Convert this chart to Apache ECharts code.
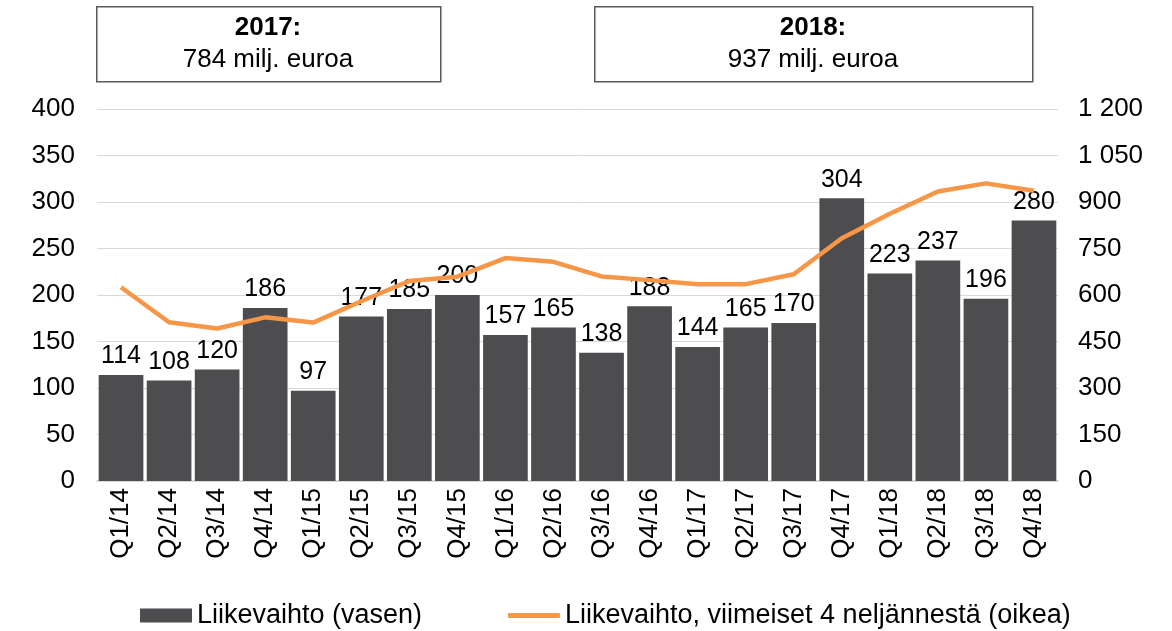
<!DOCTYPE html>
<html>
<head>
<meta charset="utf-8">
<script src="https://cdn.jsdelivr.net/npm/echarts@6/dist/echarts.min.js"></script>
<style>
html, body { margin: 0; padding: 0; background: #fff; }
#main { width: 1172px; height: 631px; }
</style>
</head>
<body>
<div id="main"></div>
<script>
var quarters = ["Q1/14","Q2/14","Q3/14","Q4/14","Q1/15","Q2/15","Q3/15","Q4/15","Q1/16","Q2/16",
  "Q3/16","Q4/16","Q1/17","Q2/17","Q3/17","Q4/17","Q1/18","Q2/18","Q3/18","Q4/18"];
var revenue = [114,108,120,186,97,177,185,200,157,165,138,188,144,165,170,304,223,237,196,280];
var rolling4 = [625,512,492,528,511,580,645,659,719,707,660,648,635,635,667,783,862,934,960,936];

var font = "Liberation Sans, Arial, sans-serif";
var myChart = echarts.init(document.getElementById("main"));

function spaceThousands(v) {
  return String(v).replace(/\B(?=(\d{3})+(?!\d))/g, " ");
}

var legendText = { fontSize: 27, color: "#000", fontFamily: font };

var option = {
  animation: false,
  textStyle: { fontFamily: font },
  grid: { left: 97, right: 114, top: 109, bottom: 150 },
  legend: [
    {
      top: 597,
      left: 135,
      itemWidth: 52,
      itemHeight: 14,
      itemGap: 6,
      textStyle: legendText,
      data: [{ name: "Liikevaihto (vasen)", icon: "rect" }]
    },
    {
      top: 597,
      left: 503,
      itemWidth: 52,
      itemHeight: 5,
      textStyle: legendText,
      data: [{ name: "Liikevaihto, viimeiset 4 neljännestä (oikea)", icon: "roundRect" }]
    }
  ],
  xAxis: {
    type: "category",
    data: quarters,
    axisLine: { lineStyle: { color: "#d9d9d9", width: 2 } },
    axisTick: { show: false },
    axisLabel: { rotate: 90, fontSize: 26, color: "#000", margin: 7, fontFamily: font }
  },
  yAxis: [
    {
      type: "value", min: 0, max: 400, interval: 50,
      axisLine: { show: false }, axisTick: { show: false },
      splitLine: { lineStyle: { color: "#d9d9d9", width: 1 } },
      axisLabel: { fontSize: 26, color: "#000", margin: 22, fontFamily: font }
    },
    {
      type: "value", min: 0, max: 1200, interval: 150,
      axisLine: { show: false }, axisTick: { show: false },
      splitLine: { show: false },
      axisLabel: { fontSize: 26, color: "#000", margin: 20, align: "left", fontFamily: font,
        formatter: spaceThousands }
    }
  ],
  series: [
    {
      name: "Liikevaihto (vasen)",
      type: "bar",
      data: revenue,
      barCategoryGap: "7%",
      itemStyle: { color: "#4d4d4f" },
      label: { show: true, position: "top", fontSize: 25, color: "#000", distance: 6, fontFamily: font }
    },
    {
      name: "Liikevaihto, viimeiset 4 neljännestä (oikea)",
      type: "line",
      yAxisIndex: 1,
      data: rolling4,
      symbol: "none",
      lineStyle: { color: "#f79646", width: 4.5 },
      itemStyle: { color: "#f79646" }
    }
  ],
  graphic: [
    { type: "rect", left: 96, top: 6, shape: { width: 344, height: 75 },
      style: { fill: "#fff", stroke: "#595959", lineWidth: 1.5 } },
    { type: "text", x: 268, y: 28, style: { text: "2017:", textAlign: "center", textVerticalAlign: "middle",
      font: "bold 26px " + font, fill: "#000" } },
    { type: "text", x: 268, y: 60, style: { text: "784 milj. euroa", textAlign: "center", textVerticalAlign: "middle",
      font: "26px " + font, fill: "#000" } },
    { type: "rect", left: 594, top: 6, shape: { width: 438, height: 75 },
      style: { fill: "#fff", stroke: "#595959", lineWidth: 1.5 } },
    { type: "text", x: 813, y: 28, style: { text: "2018:", textAlign: "center", textVerticalAlign: "middle",
      font: "bold 26px " + font, fill: "#000" } },
    { type: "text", x: 813, y: 60, style: { text: "937 milj. euroa", textAlign: "center", textVerticalAlign: "middle",
      font: "26px " + font, fill: "#000" } }
  ]
};

myChart.setOption(option);
</script>
</body>
</html>
